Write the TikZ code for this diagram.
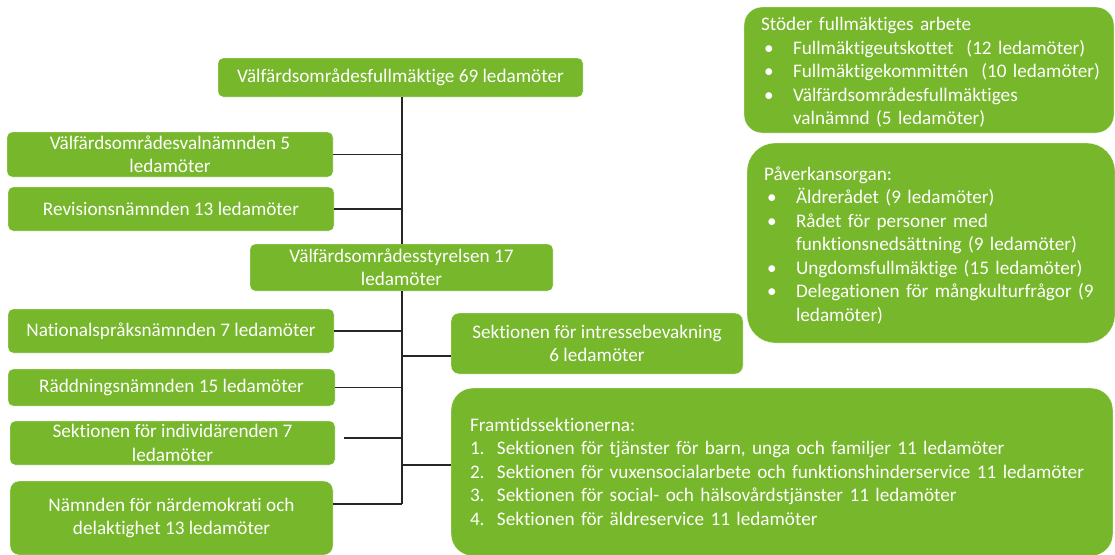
\documentclass[tikz,border=0pt]{standalone}
\usepackage{fontspec}
\setmainfont[Ligatures=NoCommon]{Carlito}
\usepackage{tikz}

\definecolor{orggreen}{RGB}{118,183,43}
\tikzset{
  orgbox/.style={fill=orggreen,draw=white,thin,rounded corners=5pt,text=white,
    align=center,inner sep=0pt,font=\fontsize{19.2}{23.5}\selectfont},
  listbox/.style={orgbox,align=left,inner xsep=17pt},
  orgline/.style={draw=black!85,line width=1.3pt}
}
\newcommand{\bitem}[1]{\makebox[32pt][l]{\hspace{3pt}\textbullet}#1}

\begin{document}
\begin{tikzpicture}[x=1pt,y=-1pt]
\useasboundingbox (0,0) rectangle (1115,554);
% ledning
\node[orgbox,minimum width=365pt,minimum height=39pt] (fm) at (400.5,77.5) {Välfärdsområdesfullmäktige 69 ledamöter};
\node[orgbox,minimum width=326pt,minimum height=45pt] (valn) at (170,154.5) {Välfärdsområdesvalnämnden 5\\ledamöter};
\node[orgbox,minimum width=326pt,minimum height=44pt] (rev) at (171,209) {Revisionsnämnden 13 ledamöter};
\node[orgbox,minimum width=303pt,minimum height=47pt] (styr) at (401.5,267.5) {Välfärdsområdesstyrelsen 17\\ledamöter};
% nämnder
\node[orgbox,minimum width=326pt,minimum height=44pt] (nat) at (171,331) {Nationalspråksnämnden 7 ledamöter};
\node[orgbox,minimum width=327pt,minimum height=37pt] (radd) at (171.5,387.5) {Räddningsnämnden 15 ledamöter};
\node[orgbox,minimum width=325pt,minimum height=44pt] (indiv) at (172.5,443) {Sektionen för individärenden 7\\ledamöter};
\node[orgbox,minimum width=323pt,minimum height=74pt,rounded corners=9pt] (narde) at (171.5,518) {Nämnden för närdemokrati och\\delaktighet 13 ledamöter};
% sektioner
\node[orgbox,minimum width=292pt,minimum height=61pt,rounded corners=8pt] (intr) at (597,343.5) {Sektionen för intressebevakning\\6 ledamöter};
\node[listbox,text width=624pt,minimum height=168pt,rounded corners=22pt,inner xsep=19pt] (framt) at (782,472)
  {\raisebox{-1.5pt}[\height][\depth]{\begin{tabular}{@{}l@{}}
   Framtidssektionerna:\\
   \makebox[27pt][l]{1.}Sektionen för tjänster för barn, unga och familjer 11 ledamöter\\
   \makebox[27pt][l]{2.}Sektionen för vuxensocialarbete och funktionshinderservice 11 ledamöter\\
   \makebox[27pt][l]{3.}Sektionen för social- och hälsovårdstjänster 11 ledamöter\\
   \makebox[27pt][l]{4.}Sektionen för äldreservice 11 ledamöter
   \end{tabular}}};
% stödorgan
\node[listbox,text width=336pt,minimum height=126pt,rounded corners=18pt] (stod) at (929,70)
  {\raisebox{-3pt}[\height][\depth]{\begin{tabular}{@{}l@{}}
   Stöder fullmäktiges arbete\\
   \bitem{Fullmäktigeutskottet\ \ (12 ledamöter)}\\
   \bitem{Fullmäktigekommittén\ \ (10 ledamöter)}\\
   \bitem{Välfärdsområdesfullmäktiges}\\
   \hspace*{32pt}valnämnd (5 ledamöter)
   \end{tabular}}};
\node[listbox,text width=334pt,minimum height=200pt,rounded corners=28pt] (pav) at (931,243)
  {\raisebox{-3pt}[\height][\depth]{\begin{tabular}{@{}l@{}}
   Påverkansorgan:\\
   \bitem{Äldrerådet (9 ledamöter)}\\
   \bitem{Rådet för personer med}\\
   \hspace*{32pt}funktionsnedsättning (9 ledamöter)\\
   \bitem{Ungdomsfullmäktige (15 ledamöter)}\\
   \bitem{Delegationen för mångkulturfrågor (9}\\
   \hspace*{32pt}ledamöter)
   \end{tabular}}};
% linjer
\coordinate (tb) at (402,504);
\draw[orgline] (fm.south -| tb) -- (styr.north -| tb);
\draw[orgline] (styr.south -| tb) -- (tb);
\draw[orgline] (valn.east) -- (valn.east -| tb);
\draw[orgline] (rev.east) -- (rev.east -| tb);
\draw[orgline] (nat.east) -- (nat.east -| tb);
\draw[orgline] (radd.east) -- (radd.east -| tb);
\draw[orgline] ([xshift=9pt,yshift=5pt]indiv.east) -- ([yshift=5pt]indiv.east -| tb);
\draw[orgline] ([yshift=14pt]narde.east) -- ([yshift=14pt]narde.east -| tb);
\draw[orgline] ([yshift=-12.5pt]intr.west) -- ([yshift=-12.5pt]intr.west -| tb);
\draw[orgline] ([yshift=7pt]framt.west) -- ([yshift=7pt]framt.west -| tb);
\end{tikzpicture}
\end{document}
